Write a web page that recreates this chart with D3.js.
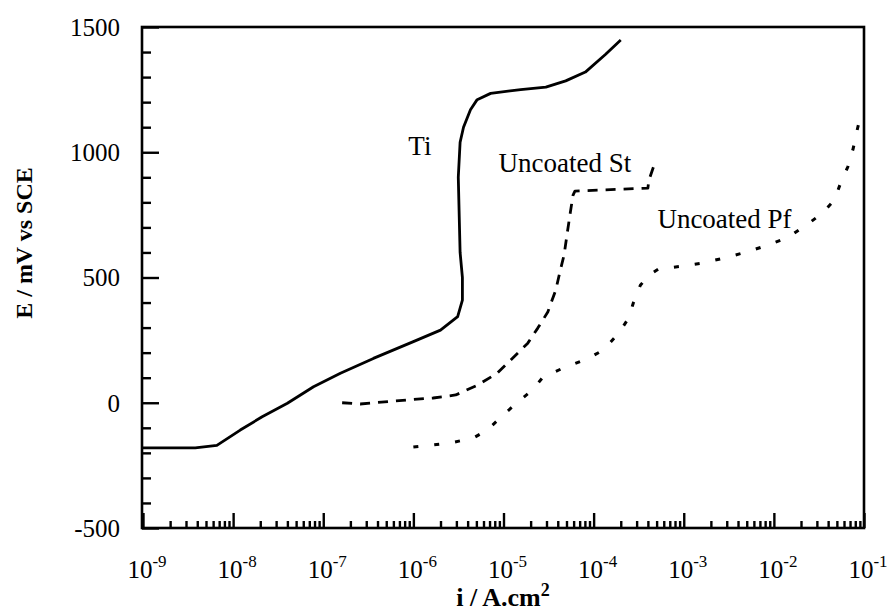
<!DOCTYPE html>
<html>
<head>
<meta charset="utf-8">
<script src="https://cdn.jsdelivr.net/npm/d3@7"></script>
<style>
  html, body { margin: 0; padding: 0; background: #fff; }
  svg { display: block; }
  text { font-family: "Liberation Serif", "Times New Roman", serif; fill: #000; }
</style>
</head>
<body>
<svg id="chart" width="887" height="611"></svg>
<script>
// Potentiodynamic polarisation curves: current density (A/cm²) vs potential (mV vs SCE)

const tiCurrent = [1.0e-9, 3.8e-9, 6.6e-9, 1.2e-8, 2.1e-8, 4.0e-8, 7.8e-8, 1.55e-7, 3.6e-7, 1.0e-6,
  2.0e-6, 3.1e-6, 3.5e-6, 3.5e-6, 3.3e-6, 3.15e-6, 3.3e-6, 3.6e-6, 4.3e-6, 5.1e-6,
  7.2e-6, 1.55e-5, 2.95e-5, 4.9e-5, 8.1e-5, 1.35e-4, 2.0e-4];
const tiPotential = [-180, -180, -170, -109, -56, -2, 64, 118, 177, 244,
  290, 344, 410, 500, 600, 900, 1040, 1100, 1170, 1210,
  1235, 1250, 1260, 1285, 1320, 1390, 1448];

const stCurrent = [1.62e-7, 2.57e-7, 8.5e-7, 1.66e-6, 2.95e-6, 5.2e-6, 8.5e-6, 1.26e-5, 1.86e-5, 2.4e-5,
  3.1e-5, 3.8e-5, 4.2e-5, 4.7e-5, 5.1e-5, 5.5e-5, 5.9e-5, 6.2e-5, 4.0e-4, 4.1e-4, 4.6e-4];
const stPotential = [0, -5, 11, 19, 31, 71, 118, 178, 238, 298,
  362, 450, 518, 590, 678, 757, 828, 845, 857, 888, 940];

const pfCurrent = [1.0e-6, 2.6e-6, 4.6e-6, 6.6e-6, 1.05e-5, 1.44e-5, 2.1e-5, 2.75e-5, 4.9e-5, 8.5e-5,
  1.29e-4, 1.9e-4, 2.45e-4, 2.75e-4, 3.3e-4, 4.1e-4, 5.2e-4, 9.3e-4, 1.62e-3, 2.75e-3,
  4.9e-3, 8.5e-3, 1.45e-2, 2.45e-2, 3.45e-2, 4.7e-2, 5.5e-2, 6.6e-2, 7.6e-2, 8.3e-2, 9.3e-2];
const pfPotential = [-177, -160, -141, -109, -41, 3, 51, 103, 143, 175,
  211, 278, 338, 397, 469, 509, 533, 545, 558, 577,
  601, 629, 661, 717, 757, 809, 877, 941, 1016, 1081, 1156];

const xDecades = [-9, -8, -7, -6, -5, -4, -3, -2, -1];
const yTickValues = [-500, 0, 500, 1000, 1500];

const curveLabels = [
  { text: "Ti", current: 8.8e-7, potential: 989 },
  { text: "Uncoated St", current: 8.8e-6, potential: 921 },
  { text: "Uncoated Pf", current: 5.1e-4, potential: 698 }
];

const svg = d3.select("#chart");
const plot = { left: 142, right: 864, top: 27, bottom: 528 };

const x = d3.scaleLog().domain([1e-9, 1e-1]).range([plot.left + 1, plot.right]);
const y = d3.scaleLinear().domain([-500, 1500]).range([plot.bottom, plot.top]);

// Minor / major tick values
const majorX = xDecades.map(e => Math.pow(10, e));
const minorX = [];
xDecades.slice(0, -1).forEach(e => {
  for (let k = 2; k <= 9; k++) minorX.push(k * Math.pow(10, e));
});
const minorY = d3.range(-400, 1500, 100).filter(v => v % 500 !== 0);
const majorY = yTickValues;

// Ticks (pointing inward)
function styleAxis(g) {
  g.select(".domain").remove();
  g.selectAll(".tick line").attr("stroke", "#000").attr("stroke-width", 2.4);
  g.selectAll(".tick text").remove();
}
svg.append("g").attr("transform", `translate(0,${plot.bottom})`)
  .call(d3.axisBottom(x).tickValues(minorX).tickSize(-7).tickFormat(""))
  .call(styleAxis);
svg.append("g").attr("transform", `translate(0,${plot.bottom})`)
  .call(d3.axisBottom(x).tickValues(majorX).tickSize(-15).tickFormat(""))
  .call(styleAxis);
svg.append("g").attr("transform", `translate(${plot.left},0)`)
  .call(d3.axisLeft(y).tickValues(minorY).tickSize(-9).tickFormat(""))
  .call(styleAxis);
svg.append("g").attr("transform", `translate(${plot.left},0)`)
  .call(d3.axisLeft(y).tickValues(majorY).tickSize(-17).tickFormat(""))
  .call(styleAxis);

// Frame
svg.append("rect")
  .attr("x", plot.left).attr("y", plot.top)
  .attr("width", plot.right - plot.left).attr("height", plot.bottom - plot.top)
  .attr("fill", "none").attr("stroke", "#000").attr("stroke-width", 2.6);

// Y tick labels
svg.append("g").selectAll("text").data(yTickValues).join("text")
  .attr("x", 120).attr("y", d => y(d)).attr("dy", "0.35em")
  .attr("text-anchor", "end").attr("font-size", 25)
  .text(d => d);

// X tick labels: 10 with superscript exponent
const xl = svg.append("g").selectAll("text").data(xDecades).join("text")
  .attr("x", d => x(Math.pow(10, d)) + 4).attr("y", 578)
  .attr("text-anchor", "middle").attr("font-size", 25);
xl.append("tspan").text("10");
xl.append("tspan").attr("dy", -11).attr("font-size", 17).text(d => "-" + Math.abs(d));

// Axis titles
svg.append("text")
  .attr("transform", "translate(32,243) rotate(-90)")
  .attr("text-anchor", "middle").attr("font-size", 24).attr("font-weight", "bold")
  .text("E / mV vs SCE");
const xt = svg.append("text")
  .attr("x", 503).attr("y", 606)
  .attr("text-anchor", "middle").attr("font-size", 26).attr("font-weight", "bold");
xt.append("tspan").text("i / A.cm");
xt.append("tspan").attr("dy", -10).attr("font-size", 18).text("2");

// Curves
const line = d3.line().x(d => x(d[0])).y(d => y(d[1]));
const series = [
  { c: tiCurrent, e: tiPotential, dash: null, w: 2.8 },
  { c: stCurrent, e: stPotential, dash: "10,8", w: 2.8 },
  { c: pfCurrent, e: pfPotential, dash: "5,16", w: 3 }
];
series.forEach(s => {
  svg.append("path")
    .datum(s.c.map((c, i) => [c, s.e[i]]))
    .attr("d", line)
    .attr("fill", "none").attr("stroke", "#000")
    .attr("stroke-width", s.w)
    .attr("stroke-linejoin", "round")
    .attr("stroke-dasharray", s.dash);
});

// Curve labels
svg.append("g").selectAll("text").data(curveLabels).join("text")
  .attr("x", d => x(d.current)).attr("y", d => y(d.potential))
  .attr("font-size", 27)
  .text(d => d.text);
</script>
</body>
</html>
